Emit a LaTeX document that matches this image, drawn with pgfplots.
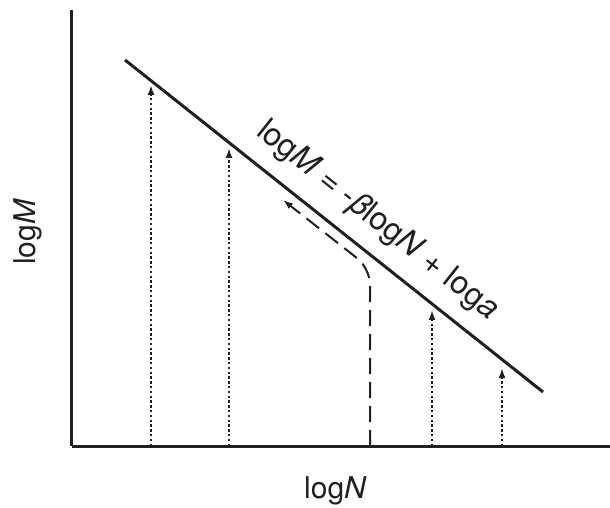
\documentclass[border=0pt]{standalone}
\usepackage{fontspec}
\setmainfont{TeX Gyre Heros}
\usepackage{pgfplots}
\pgfplotsset{compat=1.18}
\usetikzlibrary{arrows.meta}
\definecolor{ink}{RGB}{35,31,32}
\begin{document}
\begin{tikzpicture}
\begin{axis}[
  x=0.5pt, y=0.5pt,
  xmin=0, xmax=538, ymin=0, ymax=436,
  axis x line=bottom, axis y line=left,
  axis line style={-, line width=1.5pt, ink},
  xtick=\empty, ytick=\empty,
  clip=false,
  font=\fontsize{15}{18}\selectfont,
]
\coordinate (o) at (axis cs:0,0);
% main line
\addplot[ink, line width=1.5pt] coordinates {(53,386) (471,54)};
% dotted arrows
\addplot[ink, line width=1.2pt, dash pattern=on 1.2pt off 1.2pt, -{Latex[length=5pt,width=3.5pt]}] coordinates {(79,0) (79,361)};
\addplot[ink, line width=1.2pt, dash pattern=on 1.2pt off 1.2pt, -{Latex[length=5pt,width=3.5pt]}] coordinates {(157,0) (157,298)};
\addplot[ink, line width=1.2pt, dash pattern=on 1.2pt off 1.2pt, -{Latex[length=5pt,width=3.5pt]}] coordinates {(360,0) (360,136)};
\addplot[ink, line width=1.2pt, dash pattern=on 1.2pt off 1.2pt, -{Latex[length=5pt,width=3.5pt]}] coordinates {(430,0) (430,78)};
% dashed path
\addplot[ink, line width=1pt, dash pattern=on 8pt off 4pt, rounded corners=8pt, -{Latex[length=5pt,width=3.5pt]}] coordinates {(298,0) (298,177.7) (211,246)};
% labels
\node[ink, rotate=-38.45, font=\fontsize{16}{19}\selectfont] at (axis cs:305,225) {log\textit{M} = -\textit{β}log\textit{N} + log\textit{a}};
\node[ink, anchor=base] at (axis cs:263.5,-52) {log\textit{N}};
\node[ink, anchor=base, rotate=90] at (axis cs:-36,214) {log\textit{M}};
\end{axis}
\pgfresetboundingbox
\path[use as bounding box] ([shift={(-36pt,-31pt)}]o) rectangle ([shift={(269pt,223pt)}]o);
\end{tikzpicture}
\end{document}
